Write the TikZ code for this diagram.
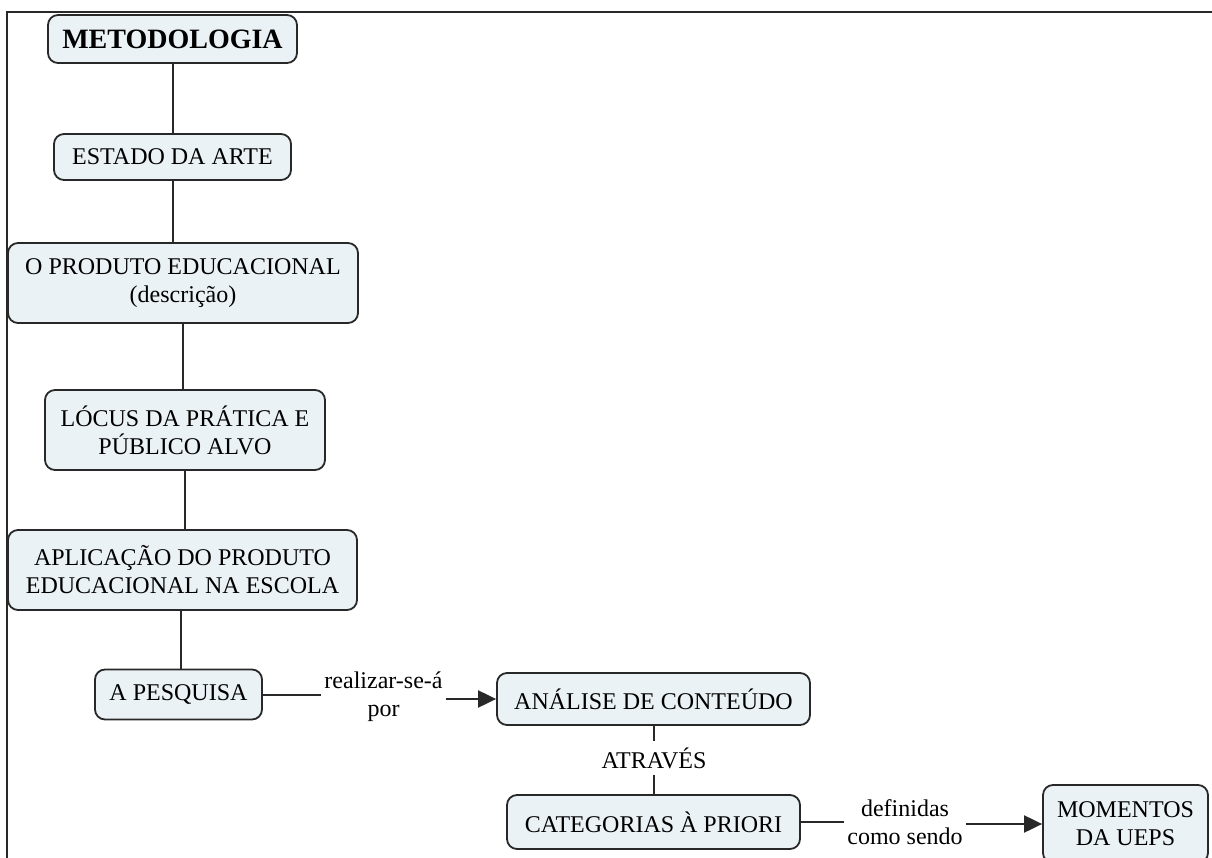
\documentclass[tikz,border=0pt]{standalone}
\usepackage{fontspec}
\setmainfont{Liberation Serif}
\usetikzlibrary{arrows.meta}
\definecolor{boxfill}{RGB}{235,242,246}
\definecolor{boxline}{RGB}{40,40,40}
\tikzset{
  cbox/.style={draw=boxline, fill=boxfill, line width=1.8pt, rounded corners=10pt,
    align=center, inner sep=2pt, font=\fontsize{24}{28}\selectfont},
  lbl/.style={align=center, inner sep=3pt, font=\fontsize{24}{28}\selectfont},
  conn/.style={draw=boxline, line width=2pt},
  arr/.style={conn, -{Triangle[length=18pt,width=17pt]}},
}
\begin{document}
\begin{tikzpicture}[x=1pt,y=-1pt]
\useasboundingbox (0,0) rectangle (1212,858);
\clip (0,0) rectangle (1212,858);
% frame
\draw[line width=1.8pt, boxline] (1212,12) -- (7,12) -- (7,858);
% nodes
\node[cbox, minimum width=249pt, minimum height=48pt, font=\fontsize{28}{30}\selectfont\bfseries] (meto) at (172.5,39) {METODOLOGIA};
\node[cbox, minimum width=237pt, minimum height=46pt] (estado) at (172.5,157) {ESTADO DA ARTE};
\node[cbox, minimum width=350pt, minimum height=80pt] (produto) at (183,283) {O PRODUTO EDUCACIONAL\\(descrição)};
\node[cbox, minimum width=280pt, minimum height=80pt] (locus) at (185,430) {LÓCUS DA PRÁTICA E\\PÚBLICO ALVO};
\node[cbox, minimum width=349pt, minimum height=80pt] (aplic) at (182.5,570) {APLICAÇÃO DO PRODUTO\\EDUCACIONAL NA ESCOLA};
\node[cbox, minimum width=167pt, minimum height=50pt] (pesq) at (178.5,694.5) {A PESQUISA};
\node[cbox, minimum width=313pt, minimum height=52pt] (analise) at (653.5,699) {ANÁLISE DE CONTEÚDO};
\node[cbox, minimum width=293pt, minimum height=54pt] (categ) at (653.5,822) {CATEGORIAS À PRIORI};
\node[cbox, minimum width=165pt, minimum height=78pt] (momentos) at (1125.5,824) {MOMENTOS\\DA UEPS};
% labels
\node[lbl] (l1) at (383.5,697) {realizar-se-á\\por};
\node[lbl, inner ysep=6pt] (l2) at (654,758) {ATRAVÉS};
\node[lbl] (l3) at (905,822) {definidas\\como sendo};
% connectors
\draw[conn] (meto.south) -- (meto.south |- estado.north);
\draw[conn] (estado.south) -- (estado.south |- produto.north);
\draw[conn] (produto.south) -- (produto.south |- locus.north);
\draw[conn] (locus.south) -- (locus.south |- aplic.north);
\draw[conn] ([xshift=-1.5pt]aplic.south) -- ([xshift=-1.5pt]aplic.south |- pesq.north);
\draw[conn] (pesq.east) -- (pesq.east -| l1.west);
\draw[arr] (l1.east |- analise.west) -- (analise.west);
\draw[conn] (analise.south) -- (analise.south |- l2.north);
\draw[conn] (l2.south) -- (l2.south |- categ.north);
\draw[conn] (categ.east) -- (categ.east -| l3.west);
\draw[arr] (l3.east |- momentos.west) -- (momentos.west);
\end{tikzpicture}
\end{document}
